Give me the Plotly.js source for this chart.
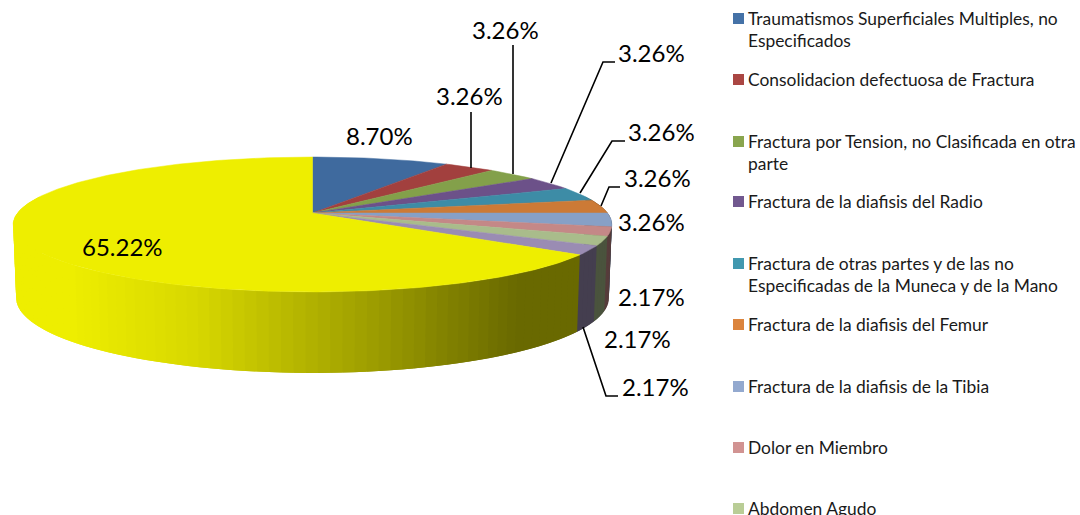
<!DOCTYPE html>
<html><head><meta charset="utf-8">
<script src="https://cdn.plot.ly/plotly-3.0.1.min.js"></script>
<style>html,body{margin:0;padding:0;background:#fff}#c{width:1080px;height:515px}</style>
</head><body><div id="c"></div>
<script>
// ---- data ----
const categories = [
  "Traumatismos Superficiales Multiples, no<br>Especificados",
  "Consolidacion defectuosa de Fractura",
  "Fractura por Tension, no Clasificada en otra<br>parte",
  "Fractura de la diafisis del Radio",
  "Fractura de otras partes y de las no<br>Especificadas de la Muneca y de la Mano",
  "Fractura de la diafisis del Femur",
  "Fractura de la diafisis de la Tibia",
  "Dolor en Miembro",
  "Abdomen Agudo"
];
const values = [8.70, 3.26, 3.26, 3.26, 3.26, 3.26, 3.26, 2.17, 2.17, 2.17, 65.22];
const pctLabels = ["8.70%","3.26%","3.26%","3.26%","3.26%","3.26%","3.26%","2.17%","2.17%","2.17%","65.22%"];
// ---- styles / layout constants ----
const topColors = ["#3f6a9e","#a2403e","#83a04a","#6c5189","#3d8ca6","#cc7a36","#87a0c6","#c48887","#a9bc8b","#9a8cb3","#eeee00"];
const keyColors = ["#4572a7","#aa4643","#89a54e","#71588f","#4198af","#db843d","#93a9cf","#d19392","#b9cd96"];
const legendY = [19,80,142,202,264,325,387,448,509];
const labelPos = [[379,137],[469,97],[505,31],[651,54],[661,133],[657,179],[651,223],[651,298],[637,340],[655,388],[122,248]];
const leaders = [null,
  [[471,112],[471,168]],
  [[513,45],[513,174]],
  [[615,62],[603,62],[551,183]],
  [[625,141],[612,141],[580,193]],
  [[620,187],[609,187],[601,206]],
  null,null,null,
  [[618,396],[606,396],[583,327]],
  null];
const cx=312.5, cy=213, R=295, B=65.5, K=0.17;
const ELLIPSE_CY=224.5, BOTTOM_CY=298, BOTTOM_SX=0.99, BOTTOM_SY=1.111;
const shadeX=[70,200,300,380,450,520,1000], shadeF=[1,.9,.76,.65,.54,.44,.44];

function proj(deg){
  const t=deg*Math.PI/180, u=Math.sin(t), v=-Math.cos(t), s=1/(1-K*v);
  return [cx+R*u*s, cy+B*v*s];
}
function base(p){ return [cx+(p[0]-cx)*BOTTOM_SX, BOTTOM_CY+(p[1]-ELLIPSE_CY)*BOTTOM_SY]; }
function shade(x){
  if(x<=shadeX[0]) return 1;
  for(let i=1;i<shadeX.length;i++) if(x<=shadeX[i]){
    const f=(x-shadeX[i-1])/(shadeX[i]-shadeX[i-1]);
    return shadeF[i-1]+f*(shadeF[i]-shadeF[i-1]);
  }
  return shadeF[shadeF.length-1];
}
function mul(hex,f){
  const n=parseInt(hex.slice(1),16);
  return `rgb(${Math.round((n>>16&255)*f)},${Math.round((n>>8&255)*f)},${Math.round((n&255)*f)})`;
}
const traces=[];
const total=values.reduce((a,b)=>a+b,0);
let a0=0; const spans=values.map(v=>{const s=[a0,a0+v/total*360];a0=s[1];return s;});

// side wall strips: each strip runs past its end and is overpainted by the next, so no seams show
spans.forEach((s,i)=>{
  const from=Math.max(s[0],75), to=Math.min(s[1],285);
  if(to<=from) return;
  const n=Math.max(1,Math.ceil((to-from)/2));
  const step=(to-from)/n;
  for(let k=0;k<n;k++){
    const a=from+step*k, b=a+step, c=b+step;
    const m=proj(b), p=proj(a), q=proj(Math.min(c,285));
    const pb=base(p), mb=base(m), qb=base(q);
    const col=mul(topColors[i],shade((p[0]+m[0])/2));
    traces.push({type:"scatter",mode:"lines",x:[p[0],m[0],q[0],qb[0],mb[0],pb[0],p[0]],y:[p[1],m[1],q[1],qb[1],mb[1],pb[1],p[1]],
      fill:"toself",fillcolor:col,line:{width:0},hoverinfo:"skip",showlegend:false});
  }
});
// top face slices
spans.forEach((s,i)=>{
  const xs=[cx], ys=[cy], n=Math.max(2,Math.ceil((s[1]-s[0])));
  for(let k=0;k<=n;k++){const p=proj(s[0]+(s[1]-s[0])*k/n);xs.push(p[0]);ys.push(p[1]);}
  xs.push(cx);ys.push(cy);
  traces.push({type:"scatter",mode:"lines",x:xs,y:ys,fill:"toself",fillcolor:topColors[i],
    line:{color:topColors[i],width:0.5},hoverinfo:"skip",showlegend:false});
});
// leader lines
leaders.forEach(l=>{ if(!l) return;
  traces.push({type:"scatter",mode:"lines",x:l.map(p=>p[0]),y:l.map(p=>p[1]),line:{color:"#000",width:1.6},hoverinfo:"skip",showlegend:false});
});
// legend keys
traces.push({type:"scatter",mode:"markers",x:legendY.map(()=>738.5),y:legendY.map(y=>y-0.5),
  marker:{symbol:"square",size:11,color:keyColors,line:{width:0}},hoverinfo:"skip",showlegend:false});

const FONT='Lato, sans-serif';
const annotations=[];
pctLabels.forEach((t,i)=>annotations.push({x:labelPos[i][0],y:labelPos[i][1]-1.5,text:t,showarrow:false,xanchor:"center",yanchor:"middle",
  font:{family:FONT,size:24,color:"#000"}}));
legendY.forEach((y,i)=>{
  categories[i].split("<br>").forEach((ln,j)=>annotations.push({x:746,y:y+j*22-0.5,text:ln,showarrow:false,xanchor:"left",yanchor:"middle",
    font:{family:FONT,size:17.4,color:"#1a1a1a"}}));
});
Plotly.newPlot("c",traces,{
  width:1080,height:515,margin:{l:0,r:0,t:0,b:0},paper_bgcolor:"#fff",plot_bgcolor:"#fff",showlegend:false,
  xaxis:{range:[0,1080],visible:false,fixedrange:true},
  yaxis:{range:[515,0],visible:false,fixedrange:true},
  annotations:annotations
},{staticPlot:true,displayModeBar:false});
</script></body></html>
